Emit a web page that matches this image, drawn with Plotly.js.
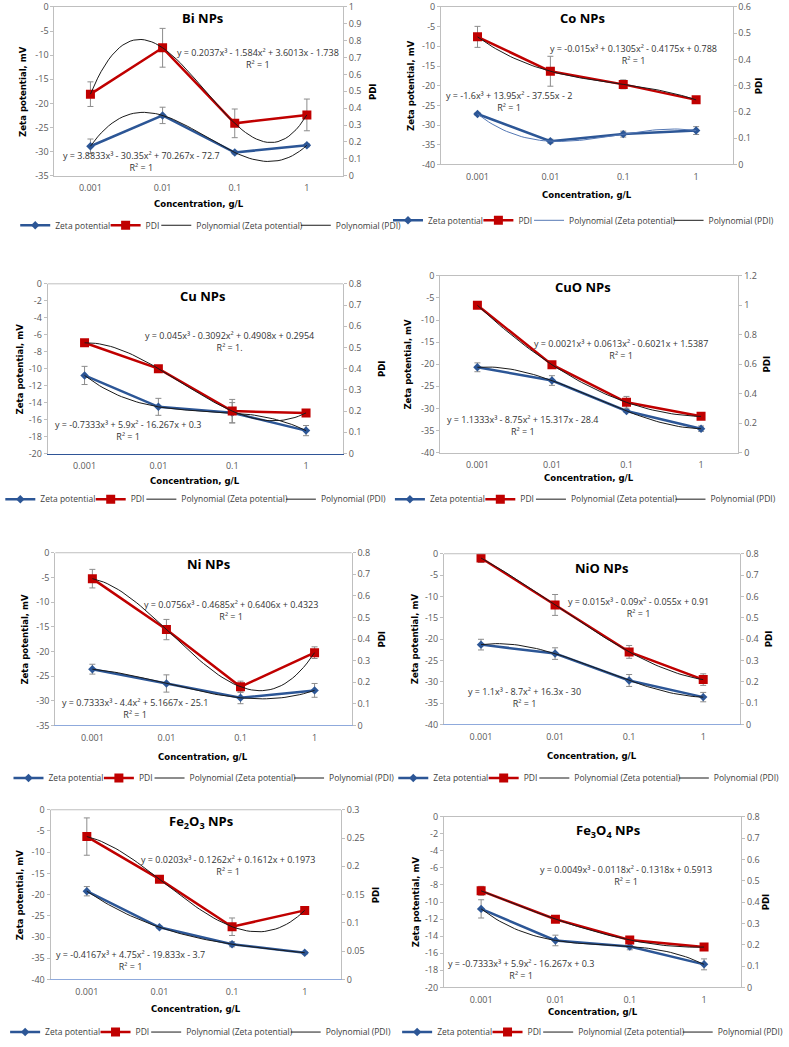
<!DOCTYPE html>
<html>
<head>
<meta charset="utf-8">
<script src="https://cdn.plot.ly/plotly-3.0.1.min.js"></script>
<style>html,body{margin:0;padding:0;background:#fff;}#chart{width:789px;height:1047px;}</style>
</head>
<body>
<div id="chart"></div>
<script>
// ---------------- DATA ----------------
const concentrations = ['0.001', '0.01', '0.1', '1'];

const biZeta = [-28.9, -22.5, -30.2, -28.7];
const biZetaErr = [1.5, 1.7, 0.3, 0.3];
const biPdi = [0.483, 0.758, 0.310, 0.360];
const biPdiErr = [0.073, 0.115, 0.085, 0.094];
const biZetaFit = [3.8833, -30.35, 70.267, -72.7];
const biPdiFit = [0.2037, -1.584, 3.6013, -1.738];

const coZeta = [-27.2, -34.1, -32.3, -31.4];
const coZetaErr = [0.3, 0.5, 0.75, 1.0];
const coPdi = [0.486, 0.355, 0.305, 0.246];
const coPdiErr = [0.04, 0.057, 0.017, 0.005];
const coZetaFit = [-1.6, 13.95, -37.55, -2];
const coPdiFit = [-0.015, 0.1305, -0.4175, 0.788];

const cuZeta = [-10.8, -14.5, -15.2, -17.3];
const cuZetaErr = [1.07, 1.0, 1.2, 0.6];
const cuPdi = [0.522, 0.400, 0.200, 0.191];
const cuPdiErr = [0.005, 0.005, 0.055, 0.005];
const cuZetaFit = [-0.7333, 5.9, -16.267, 0.3];
const cuPdiFit = [0.045, -0.3092, 0.4908, 0.2954];

const cuoZeta = [-20.7, -23.7, -30.6, -34.6];
const cuoZetaErr = [1.0, 1.1, 0.3, 0.6];
const cuoPdi = [1.0, 0.597, 0.341, 0.246];
const cuoPdiErr = [0.005, 0.005, 0.04, 0.005];
const cuoZetaFit = [1.1333, -8.75, 15.317, -28.4];
const cuoPdiFit = [0.0021, 0.0613, -0.6021, 1.5387];

const niZeta = [-23.6, -26.5, -29.4, -27.9];
const niZetaErr = [1.0, 1.75, 1.2, 1.4];
const niPdi = [0.680, 0.444, 0.179, 0.337];
const niPdiErr = [0.043, 0.047, 0.026, 0.027];
const niZetaFit = [0.7333, -4.4, 5.1667, -25.1];
const niPdiFit = [0.0756, -0.4685, 0.6406, 0.4323];

const nioZeta = [-21.3, -23.4, -29.7, -33.6];
const nioZetaErr = [1.25, 1.36, 1.4, 1.1];
const nioPdi = [0.78, 0.56, 0.34, 0.21];
const nioPdiErr = [0.021, 0.049, 0.03, 0.027];
const nioZetaFit = [1.1, -8.7, 16.3, -30];
const nioPdiFit = [0.015, -0.09, -0.055, 0.91];

const fe2o3Zeta = [-19.2, -27.7, -31.7, -33.7];
const fe2o3ZetaErr = [1.1, 0.3, 0.6, 0.3];
const fe2o3Pdi = [0.2526, 0.1773, 0.0932, 0.1221];
const fe2o3PdiErr = [0.033, 0.002, 0.0155, 0.002];
const fe2o3ZetaFit = [-0.4167, 4.75, -19.833, -3.7];
const fe2o3PdiFit = [0.0203, -0.1262, 0.1612, 0.1973];

const fe3o4Zeta = [-10.8, -14.5, -15.2, -17.3];
const fe3o4ZetaErr = [1.07, 0.62, 0.39, 0.64];
const fe3o4Pdi = [0.4526, 0.3197, 0.222, 0.1889];
const fe3o4PdiErr = [0.021, 0.003, 0.016, 0.003];
const fe3o4ZetaFit = [-0.7333, 5.9, -16.267, 0.3];
const fe3o4PdiFit = [0.0049, -0.0118, -0.1318, 0.5913];

const seriesNames = ['Zeta potential', 'PDI', 'Polynomial (Zeta potential)', 'Polynomial (PDI)'];

// ---------------- PANELS (layout/config) ----------------
const W = 789, H = 1047;
const panels = [
  {title:'Bi NPs', zeta:biZeta, zErr:biZetaErr, pdi:biPdi, pErr:biPdiErr, zFit:biZetaFit, pFit:biPdiFit,
   box:[43,343,7,177], yl:[-35,5], yr:[1,0.1], titleXY:[197,18],
   eqP:['y = 0.2037x³ - 1.584x² + 3.6013x - 1.738<br>R² = 1',255,58.5], eqZ:['y = 3.8833x³ - 30.35x² + 70.267x - 72.7<br>R² = 1',134,162.5],
   ytX:10, pdiX:373, xtY:205, leg:[29,377,227]},
  {title:'Co NPs', zeta:coZeta, zErr:coZetaErr, pdi:coPdi, pErr:coPdiErr, zFit:coZetaFit, pFit:coPdiFit,
   box:[445,748,7,165.7], yl:[-40,5], yr:[0.6,0.1], titleXY:[592,18],
   eqP:['y = -0.015x³ + 0.1305x² - 0.4175x + 0.788<br>R² = 1',645,54.5], eqZ:['y = -1.6x³ + 13.95x² - 37.55x - 2<br>R² = 1',516,102],
   ytX:413, pdiX:775, xtY:196, leg:[425,756,222], zFitColor:'#5578B4'},
  {title:'Cu NPs', zeta:cuZeta, zErr:cuZetaErr, pdi:cuPdi, pErr:cuPdiErr, zFit:cuZetaFit, pFit:cuPdiFit,
   box:[36,343,286,457], yl:[-20,2], yr:[0.8,0.1], titleXY:[197,298],
   eqP:['y = 0.045x³ - 0.3092x² + 0.4908x + 0.2954<br>R² = 1.',225,344], eqZ:['y = -0.7333x³ + 5.9x² - 16.267x + 0.3<br>R² = 1',120,434],
   ytX:7, pdiX:383, xtY:484, leg:[17,358,503], xLine:'#2F5597'},
  {title:'CuO NPs', zeta:cuoZeta, zErr:cuoZetaErr, pdi:cuoPdi, pErr:cuoPdiErr, zFit:cuoZetaFit, pFit:cuoPdiFit,
   box:[444,754,278,456], yl:[-40,5], yr:[1.2,0.2], titleXY:[593,289],
   eqP:['y = 0.0021x³ + 0.0613x² - 0.6021x + 1.5387<br>R² = 1',632,352], eqZ:['y = 1.1333x³ - 8.75x² + 15.317x - 28.4<br>R² = 1',530,429],
   ytX:410, pdiX:783, xtY:481, leg:[420,765,503]},
  {title:'Ni NPs', zeta:niZeta, zErr:niZetaErr, pdi:niPdi, pErr:niPdiErr, zFit:niZetaFit, pFit:niPdiFit,
   box:[44,352,557,731], yl:[-35,5], yr:[0.8,0.1], titleXY:[203,568],
   eqP:['y = 0.0756x³ - 0.4685x² + 0.6406x + 0.4323<br>R² = 1',227,615.5], eqZ:['y = 0.7333x³ - 4.4x² + 5.1667x - 25.1<br>R² = 1',127,714],
   ytX:12, pdiX:383, xtY:762, leg:[24,368,784], xLine:'#8FAADC'},
  {title:'NiO NPs', zeta:nioZeta, zErr:nioZetaErr, pdi:nioPdi, pErr:nioPdiErr, zFit:nioZetaFit, pFit:nioPdiFit,
   box:[448,756,558,730], yl:[-40,5], yr:[0.8,0.1], titleXY:[612,572],
   eqP:['y = 0.015x³ - 0.09x² - 0.055x + 0.91<br>R² = 1',650,612.5], eqZ:['y = 1.1x³ - 8.7x² + 16.3x - 30<br>R² = 1',532,702.5],
   ytX:417, pdiX:785, xtY:761, leg:[427,765,784], xLine:'#8FAADC'},
  {title:'Fe<sub>2</sub>O<sub>3</sub> NPs', zeta:fe2o3Zeta, zErr:fe2o3ZetaErr, pdi:fe2o3Pdi, pErr:fe2o3PdiErr, zFit:fe2o3ZetaFit, pFit:fe2o3PdiFit,
   box:[39,341,816,987], yl:[-40,5], yr:[0.3,0.05], titleXY:[195,828],
   eqP:['y = 0.0203x³ - 0.1262x² + 0.1612x + 0.1973<br>R² = 1',224,872], eqZ:['y = -0.4167x³ + 4.75x² - 19.833x - 3.7<br>R² = 1',122,967.5],
   ytX:7, pdiX:377, xtY:1016, leg:[17,368,1040], xLine:'#8FAADC'},
  {title:'Fe<sub>3</sub>O<sub>4</sub> NPs', zeta:fe3o4Zeta, zErr:fe3o4ZetaErr, pdi:fe3o4Pdi, pErr:fe3o4PdiErr, zFit:fe3o4ZetaFit, pFit:fe3o4PdiFit,
   box:[448,757,823,995], yl:[-20,2], yr:[0.8,0.1], titleXY:[618,837],
   eqP:['y = 0.0049x³ - 0.0118x² - 0.1318x + 0.5913<br>R² = 1',637,882.5], eqZ:['y = -0.7333x³ + 5.9x² - 16.267x + 0.3<br>R² = 1',528,976.5],
   ytX:418, pdiX:782, xtY:1019, leg:[430,770,1040]}
];

const BLUE = '#2C5696', RED = '#C00000', GRID = '#BFBFBF', TXT = '#595959';
const BODY = "'Open Sans', 'Noto Sans', sans-serif";
const NARROW = "'DejaVu Sans Condensed', 'Open Sans', sans-serif";
const LEGSIZE = 8.5;
const xPos = [1, 2, 3, 4];
function poly(c, x) { return c[0]*x*x*x + c[1]*x*x + c[2]*x + c[3]; }
const fitX = [];
for (let k = 0; k <= 60; k++) fitX.push(1 + k * 0.05);

const cv = document.createElement('canvas').getContext('2d');
cv.font = LEGSIZE + 'px ' + BODY;
const textW = seriesNames.map(n => cv.measureText(n).width);

const traces = [];
const layout = {
  width: W, height: H, margin: {l:0, r:0, t:0, b:0},
  paper_bgcolor: '#fff', plot_bgcolor: 'rgba(0,0,0,0)',
  font: {family: BODY, size: 9, color: TXT},
  showlegend: true, annotations: [], shapes: []
};

function fmt(v) { return String(parseFloat(v.toFixed(4))); }

panels.forEach((p, idx) => {
  const i = idx + 1;
  const s = i === 1 ? '' : String(i);
  const xa = 'x' + s, ya = 'y' + s, yb = 'y' + (i + 8);
  const zfc = p.zFitColor || '#1a1a1a';
  const legIds = [0, 1, 2, 3].map(k => { const n = idx * 4 + k + 1; return n === 1 ? 'legend' : 'legend' + n; });

  traces.push({x: xPos, y: p.zeta, xaxis: xa, yaxis: ya, type: 'scatter', mode: 'lines+markers', name: seriesNames[0],
    line: {color: BLUE, width: 2.5}, marker: {symbol: 'diamond', size: 6.5, color: BLUE},
    error_y: {type: 'data', array: p.zErr, color: '#8c8c8c', thickness: 1, width: 3},
    legend: legIds[0], hoverinfo: 'skip'});
  traces.push({x: fitX, y: fitX.map(x => poly(p.zFit, x)), xaxis: xa, yaxis: ya, type: 'scatter', mode: 'lines', name: seriesNames[2],
    line: {color: zfc, width: 1}, legend: legIds[2], hoverinfo: 'skip'});
  traces.push({x: xPos, y: p.pdi, xaxis: xa, yaxis: yb, type: 'scatter', mode: 'lines+markers', name: seriesNames[1],
    line: {color: RED, width: 2.5}, marker: {symbol: 'square', size: 9, color: RED},
    error_y: {type: 'data', array: p.pErr, color: '#8c8c8c', thickness: 1, width: 3},
    legend: legIds[1], hoverinfo: 'skip'});
  traces.push({x: fitX, y: fitX.map(x => poly(p.pFit, x)), xaxis: xa, yaxis: yb, type: 'scatter', mode: 'lines', name: seriesNames[3],
    line: {color: '#1a1a1a', width: 1}, legend: legIds[3], hoverinfo: 'skip'});

  const [L, R, T, B] = p.box;
  const yDom = [1 - B / H, 1 - T / H];
  const tf = {size: 9, color: TXT, family: BODY};
  layout['xaxis' + s] = {domain: [L / W, R / W], anchor: ya, range: [0.5, 4.5], tickmode: 'array', tickvals: xPos, ticktext: concentrations,
    showline: true, mirror: true, linecolor: GRID, linewidth: 1, showgrid: false, zeroline: false,
    ticks: 'outside', ticklen: 4, tickcolor: 'rgba(0,0,0,0)', tickfont: tf, fixedrange: true,
    ticklabeloverflow: 'allow'};
  if (p.xLine) {
    layout['xaxis' + s].linecolor = p.xLine;
    layout['xaxis' + s].mirror = false;
    layout.shapes.push({type: 'line', xref: 'paper', yref: 'paper', x0: L / W, x1: R / W, y0: yDom[1], y1: yDom[1],
      line: {color: GRID, width: 1}});
  }

  const lv = [], lt = [];
  for (let v = 0; v >= p.yl[0] - 1e-9; v -= p.yl[1]) { lv.push(v); lt.push(String(Math.round(v))); }
  layout['yaxis' + s] = {domain: yDom, anchor: xa, range: [p.yl[0], 0], tickmode: 'array', tickvals: lv, ticktext: lt,
    showline: true, linecolor: GRID, linewidth: 1, showgrid: false, zeroline: false,
    ticks: 'outside', ticklen: 3, tickcolor: GRID, tickfont: tf, fixedrange: true,
    ticklabeloverflow: 'allow'};
  const rv = [], rt = [];
  for (let k = 0; k * p.yr[1] <= p.yr[0] + 1e-9; k++) { rv.push(k * p.yr[1]); rt.push(fmt(k * p.yr[1])); }
  layout['yaxis' + (i + 8)] = {overlaying: ya, side: 'right', anchor: xa, range: [0, p.yr[0]], tickmode: 'array', tickvals: rv, ticktext: rt,
    showline: true, linecolor: GRID, linewidth: 1, showgrid: false, zeroline: false,
    ticks: 'outside', ticklen: 3, tickcolor: GRID, tickfont: tf, fixedrange: true,
    ticklabeloverflow: 'allow'};

  // per-item legends laid out to span the reference's legend row
  const [S, E, LY] = p.leg;
  const need = textW.reduce((a, b) => a + b, 0) + 4 * 35;
  let gap = (E - S - need) / 3, start = S;
  if (gap < 4) { gap = 4; start = (S + E) / 2 - (need + 12) / 2; }
  let cur = start;
  [0, 1, 2, 3].forEach(k => {
    layout[legIds[k]] = {x: (cur - 5) / W, y: 1 - LY / H, xanchor: 'left', yanchor: 'middle', orientation: 'h',
      font: {size: LEGSIZE, color: '#404040', family: BODY}, itemwidth: 30, bgcolor: 'rgba(0,0,0,0)'};
    cur += 35 + textW[k] + gap;
  });

  const ann = layout.annotations;
  ann.push({xref: 'paper', yref: 'paper', x: p.titleXY[0] / W, y: 1 - p.titleXY[1] / H, text: '<b>' + p.title + '</b>',
    showarrow: false, xanchor: 'center', yanchor: 'middle', font: {size: 13, color: '#000', family: BODY}});
  [p.eqP, p.eqZ].forEach(e => ann.push({xref: 'paper', yref: 'paper', x: e[1] / W, y: 1 - e[2] / H, text: e[0],
    showarrow: false, xanchor: 'center', yanchor: 'middle', align: 'center', font: {size: 9, color: '#333', family: BODY}}));
  const midY = 1 - (T + B) / 2 / H;
  ann.push({xref: 'paper', yref: 'paper', x: p.ytX / W, y: midY, text: '<b>Zeta potential, mV</b>', textangle: -90,
    showarrow: false, xanchor: 'center', yanchor: 'middle', font: {size: 9.5, color: '#000', family: NARROW}});
  ann.push({xref: 'paper', yref: 'paper', x: p.pdiX / W, y: midY, text: '<b>PDI</b>', textangle: -90,
    showarrow: false, xanchor: 'center', yanchor: 'middle', font: {size: 9.5, color: '#000', family: NARROW}});
  ann.push({xref: 'paper', yref: 'paper', x: (L + R) / 2 / W, y: 1 - p.xtY / H, text: '<b>Concentration, g/L</b>',
    showarrow: false, xanchor: 'center', yanchor: 'middle', font: {size: 9.5, color: '#000', family: NARROW}});
});

Plotly.newPlot('chart', traces, layout, {staticPlot: true, displayModeBar: false});
</script>
</body>
</html>
